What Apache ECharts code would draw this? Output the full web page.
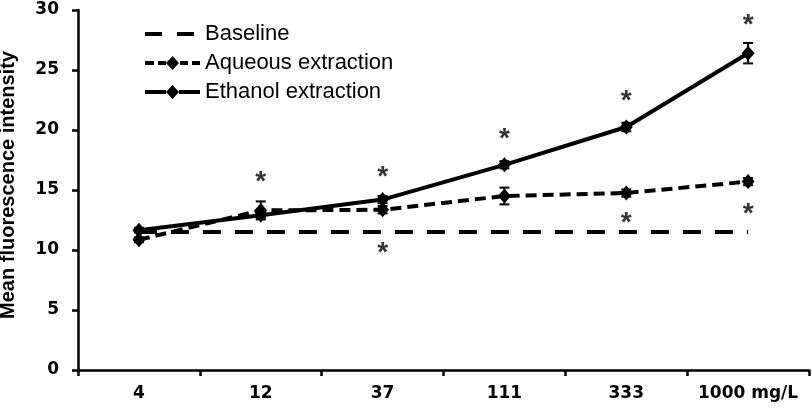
<!DOCTYPE html>
<html>
<head>
<meta charset="utf-8">
<script src="https://cdn.jsdelivr.net/npm/echarts@6/dist/echarts.min.js"></script>
<style>html,body{margin:0;padding:0;background:#fff}#c{width:812px;height:412px}</style>
</head>
<body>
<div id="c"></div>
<script>
const categories = ['4', '12', '37', '111', '333', '1000 mg/L'];
const yTicks = [0, 5, 10, 15, 20, 25, 30];
const baseline = [11.5, 11.5, 11.5, 11.5, 11.5, 11.5];
const aqueous = [10.85, 13.3, 13.35, 14.5, 14.75, 15.7];
const ethanol = [11.65, 12.9, 14.2, 17.1, 20.25, 26.4];
const aqueousErr = [0.2, 0.75, 0.3, 0.7, 0.3, 0.3];
const ethanolErr = [0.2, 0.2, 0.3, 0.3, 0.35, 0.85];
const starsAbove = [null, 16.0, 16.4, 19.6, 22.75, 29.1];
const starsBelow = [null, null, 10.1, null, 12.6, 13.3];

const chart = echarts.init(document.getElementById('c'), null, {renderer: 'canvas'});

function errData(vals, errs) {
  return vals.map((v, i) => [i, v - errs[i], v + errs[i]]);
}
function starData(arr) {
  const out = [];
  arr.forEach((v, i) => { if (v != null) out.push([i, v]); });
  return out;
}
function errRender(params, api) {
  const x = api.value(0);
  const lo = api.coord([x, api.value(1)]);
  const hi = api.coord([x, api.value(2)]);
  const hw = 5;
  const st = {stroke: '#000', lineWidth: 2};
  return {
    type: 'group',
    children: [
      {type: 'line', shape: {x1: lo[0], y1: lo[1], x2: hi[0], y2: hi[1]}, style: st},
      {type: 'line', shape: {x1: hi[0] - hw, y1: hi[1], x2: hi[0] + hw, y2: hi[1]}, style: st},
      {type: 'line', shape: {x1: lo[0] - hw, y1: lo[1], x2: lo[0] + hw, y2: lo[1]}, style: st}
    ]
  };
}
const starLabel = {
  show: true, formatter: '*', position: 'inside', color: '#000',
  fontFamily: 'Liberation Sans, Arial, sans-serif', fontWeight: 'bold', fontSize: 28, offset: [0, 4]
};

// legend icons (55 x 14 boxes)
const iconBaseline = 'path://M0,0L0,0M0,5h17v4h-17zM32,5h17v4h-17zM55,14L55,14';
const iconAqueous = 'path://M0,5h9v4h-9zM13,5h8v4h-8zM21,7L27.5,0L34,7L27.5,14zM35,5h8v4h-8zM47,5h8v4h-8z';
const iconEthanol = 'path://M0,5h21v4h-21zM21,7L27.5,0L34,7L27.5,14zM34,5h21v4h-21z';

chart.setOption({
  animation: false,
  backgroundColor: '#fff',
  grid: {left: 78, right: 3, top: 10, bottom: 42, containLabel: false, outerBoundsMode: 'none'},
  legend: {
    orient: 'vertical', left: 145, top: 23, padding: 0, itemWidth: 55, itemHeight: 14, itemGap: 7,
    data: [
      {name: 'Baseline', icon: iconBaseline},
      {name: 'Aqueous extraction', icon: iconAqueous},
      {name: 'Ethanol extraction', icon: iconEthanol}
    ],
    itemStyle: {color: '#000', borderWidth: 0},
    textStyle: {fontFamily: 'Liberation Sans, Arial, sans-serif', fontSize: 22, color: '#000'}
  },
  xAxis: {
    type: 'category', data: categories, boundaryGap: true,
    axisLine: {lineStyle: {color: '#000', width: 2.5}},
    axisTick: {show: true, length: 6, lineStyle: {color: '#000', width: 2.5}},
    axisLabel: {interval: 0, color: '#000', fontFamily: 'DejaVu Sans, sans-serif', fontWeight: 'bold', fontSize: 17, margin: 15}
  },
  yAxis: {
    type: 'value', min: yTicks[0], max: yTicks[yTicks.length - 1], interval: 5,
    name: 'Mean fluorescence intensity', nameLocation: 'middle', nameGap: 60, nameRotate: 90,
    nameTextStyle: {color: '#000', fontFamily: 'Liberation Sans, Arial, sans-serif', fontWeight: 'bold', fontSize: 20, padding: [0, 0, 0, 10]},
    axisLine: {show: true, lineStyle: {color: '#000', width: 2.5}},
    axisTick: {show: true, length: 6, lineStyle: {color: '#000', width: 2.5}},
    splitLine: {show: false},
    axisLabel: {color: '#000', fontFamily: 'DejaVu Sans, sans-serif', fontWeight: 'bold', fontSize: 17, margin: 19}
  },
  series: [
    {
      name: 'Baseline', type: 'line', data: baseline, symbol: 'none', showSymbol: false,
      lineStyle: {color: '#000', width: 4, type: [18, 14]}, itemStyle: {color: '#000'}, z: 2
    },
    {
      name: 'Aqueous extraction', type: 'line', data: aqueous, symbol: 'diamond', symbolSize: [13, 15],
      lineStyle: {color: '#000', width: 4, type: [11, 6]}, itemStyle: {color: '#000'}, z: 3
    },
    {
      name: 'Ethanol extraction', type: 'line', data: ethanol, symbol: 'diamond', symbolSize: [13, 15],
      lineStyle: {color: '#000', width: 4, type: 'solid'}, itemStyle: {color: '#000'}, z: 4
    },
    {type: 'custom', renderItem: errRender, data: errData(aqueous, aqueousErr), z: 5, silent: true},
    {type: 'custom', renderItem: errRender, data: errData(ethanol, ethanolErr), z: 5, silent: true},
    {type: 'scatter', data: starData(starsAbove), symbolSize: 0, label: starLabel, z: 6, silent: true},
    {type: 'scatter', data: starData(starsBelow), symbolSize: 0, label: starLabel, z: 6, silent: true}
  ]
});
</script>
</body>
</html>
